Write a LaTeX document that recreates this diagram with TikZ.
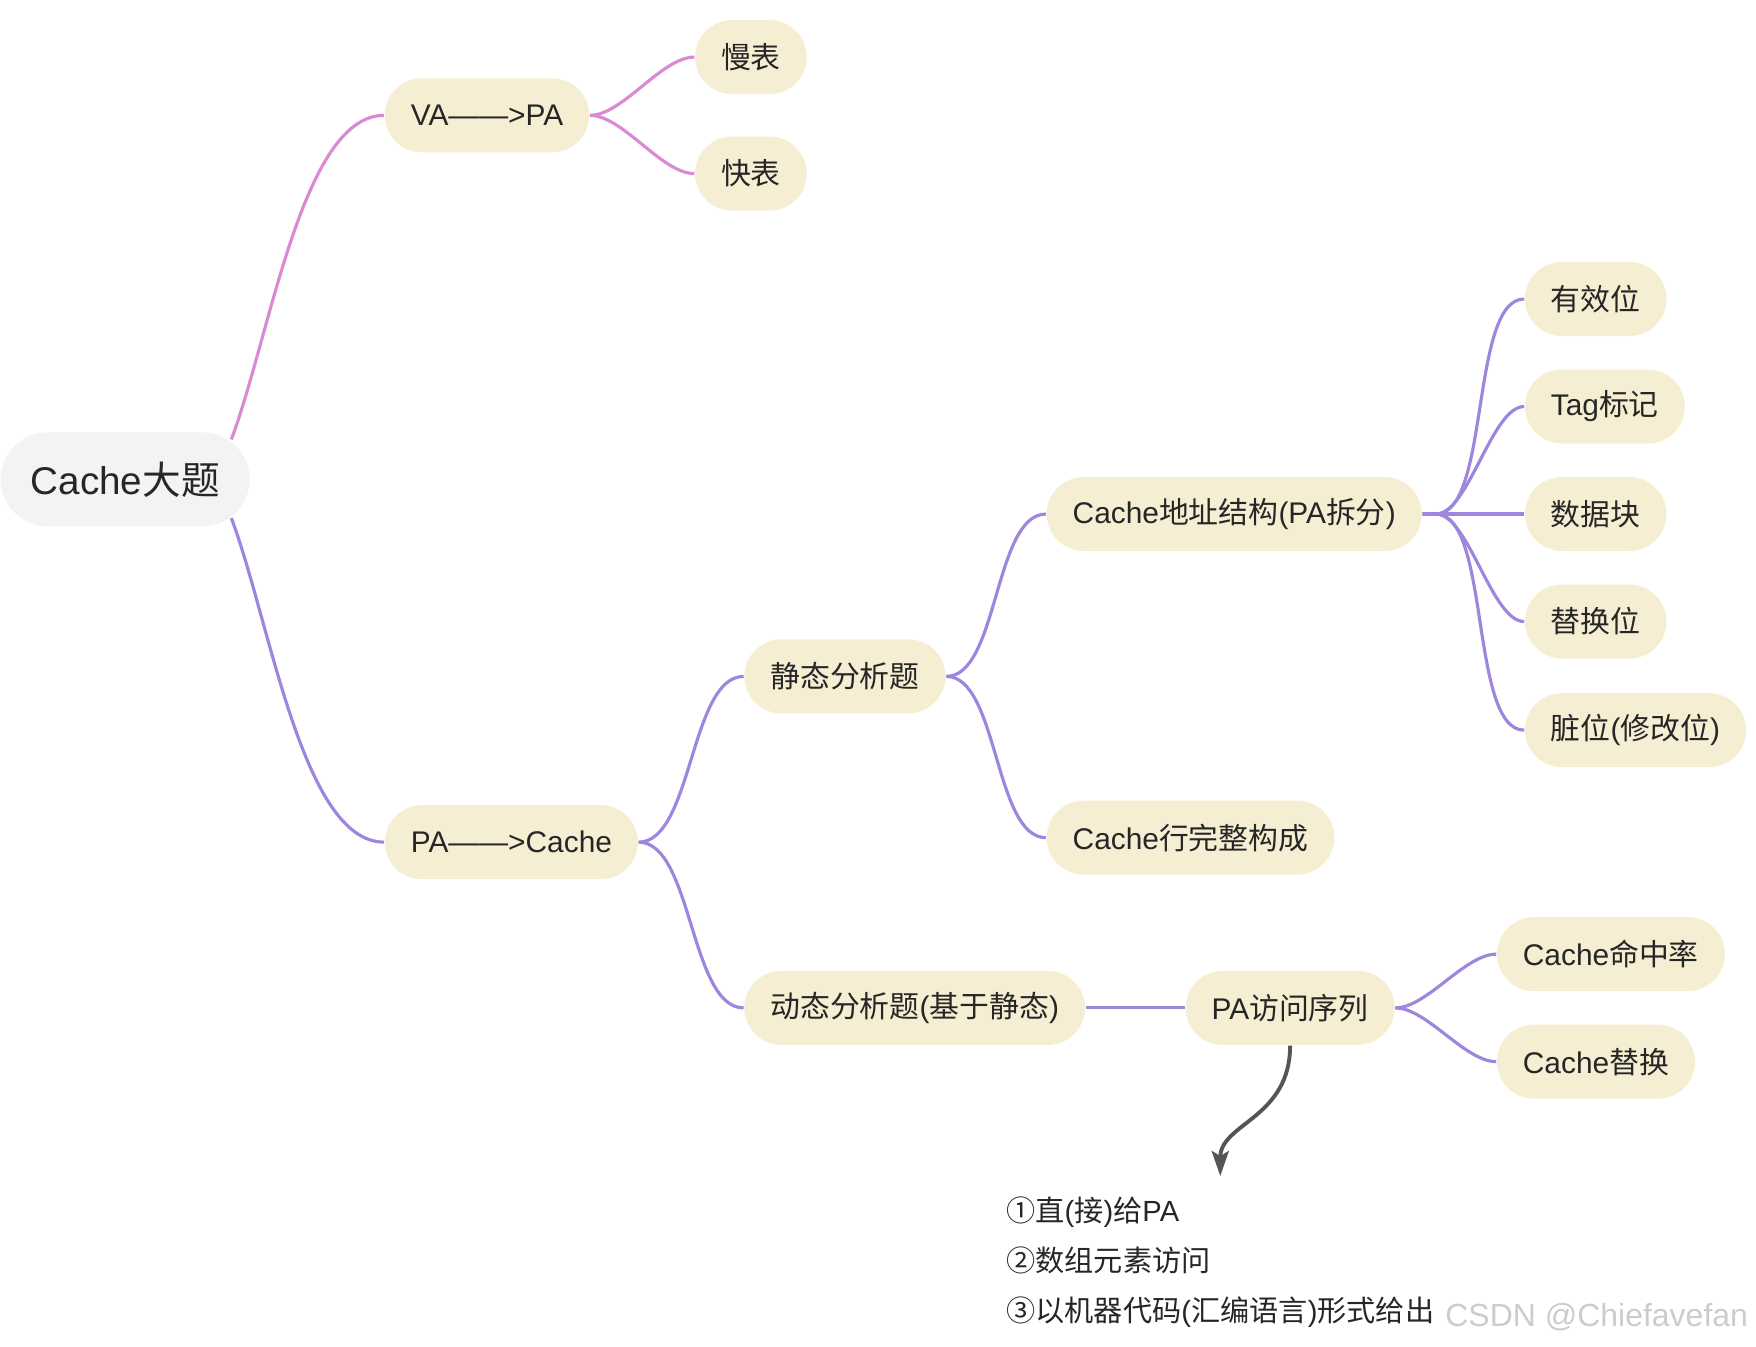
\documentclass[tikz,border=0pt]{standalone}
\usepackage{fontspec}
\setmainfont{Liberation Sans}
\newfontfamily\cjk{Noto Sans CJK SC}
\usepackage{xcolor}
\usepackage{tikz}
\usetikzlibrary{arrows.meta,calc}

\definecolor{topicfill}{RGB}{246,238,211}
\definecolor{centralfill}{RGB}{243,243,243}
\definecolor{textcol}{RGB}{38,38,38}
\definecolor{pinkline}{RGB}{218,138,212}
\definecolor{purpline}{RGB}{158,134,222}
\definecolor{arrowcol}{RGB}{85,85,85}

\begin{document}
\begin{tikzpicture}[
    x=0.0112cm, y=-0.0112cm,
    topic/.style={rectangle, rounded corners=0.37cm, fill=topicfill, minimum height=0.74cm, inner xsep=0.26cm, text=textcol, font=\fontsize{8.5}{10}\selectfont, anchor=west},
    central/.style={rectangle, rounded corners=0.47cm, fill=centralfill, minimum height=0.94cm, minimum width=2.49cm, text=textcol, font=\fontsize{11}{13}\selectfont, anchor=west},
    notes/.style={align=left, inner sep=0pt, text=textcol, font=\fontsize{8.3}{14.3}\selectfont, anchor=north west},
    pinklink/.style={draw=pinkline, line width=0.9pt, out=0, in=180, looseness=0.7},
    purplink/.style={draw=purpline, line width=0.9pt, out=0, in=180, looseness=0.7},
    arrow/.style={-{Stealth[length=0.25cm, width=0.17cm, inset=0.05cm]}, draw=arrowcol, line width=1.1pt}
]
\useasboundingbox (0,0) rectangle (1568,1202);

\node[central] (cache) at (0,428) {Cache{\cjk 大题}};
\node[topic] (va) at (343,103) {VA——>PA};
\node[topic] (slow) at (620,51) {\cjk 慢表};
\node[topic] (fast) at (620,155) {\cjk 快表};
\node[topic] (pa) at (343,752) {PA——>Cache};
\node[topic] (static) at (664,604) {\cjk 静态分析题};
\node[topic] (dynamic) at (664,900) {{\cjk 动态分析题}({\cjk 基于静态})};
\node[topic] (addr) at (934,459) {Cache{\cjk 地址结构}(PA{\cjk 拆分})};
\node[topic] (row) at (934,748) {Cache{\cjk 行完整构成}};
\node[topic] (valid) at (1361,267) {\cjk 有效位};
\node[topic] (tag) at (1361,363) {Tag{\cjk 标记}};
\node[topic] (data) at (1361,459) {\cjk 数据块};
\node[topic] (repl) at (1361,555) {\cjk 替换位};
\node[topic] (dirty) at (1361,652) {{\cjk 脏位}({\cjk 修改位})};
\node[topic] (seq) at (1058,900) {PA{\cjk 访问序列}};
\node[topic] (hit) at (1336,852) {Cache{\cjk 命中率}};
\node[topic] (swap) at (1336,948) {Cache{\cjk 替换}};
\node[notes] (list) at (898,1068) {{\cjk ①直}({\cjk 接}){\cjk 给}PA\\{\cjk ②数组元素访问}\\{\cjk ③以机器代码}({\cjk 汇编语言}){\cjk 形式给出}};
\node[anchor=west, inner sep=0pt, font=\fontsize{9.1}{11}\selectfont, text=gray!40] (mark) at (1290,1176) {CSDN @Chiefavefan};

% main branches
\draw[pinklink] ($(cache.north east)+(-17,7)$) .. controls +(35,-93) and +(-73,0) .. (va.west);
\draw[purplink] ($(cache.south east)+(-17,-8)$) .. controls +(35,93) and +(-73,0) .. (pa.west);

\draw[pinklink] (va.east) to (slow.west);
\draw[pinklink] (va.east) to (fast.west);

\draw[purplink] (pa.east) to (static.west);
\draw[purplink] (pa.east) to (dynamic.west);
\draw[purplink] (static.east) to (addr.west);
\draw[purplink] (static.east) to (row.west);

% address fields
\coordinate (fan) at ($(addr.east)+(12,0)$);
\draw[purplink, looseness=0.6] (addr.east) -- (fan) to (valid.west);
\draw[purplink, looseness=0.6] (addr.east) -- (fan) to (tag.west);
\draw[purplink] (addr.east) -- (data.west);
\draw[purplink, looseness=0.6] (addr.east) -- (fan) to (repl.west);
\draw[purplink, looseness=0.6] (addr.east) -- (fan) to (dirty.west);

\draw[purplink] (dynamic.east) -- (seq.west);
\draw[purplink] (seq.east) to (hit.west);
\draw[purplink] (seq.east) to (swap.west);

\draw[arrow, shorten >=0.2cm] (seq.south) .. controls +(0,65) and +(0,-65) .. (list.north);
\end{tikzpicture}
\end{document}
